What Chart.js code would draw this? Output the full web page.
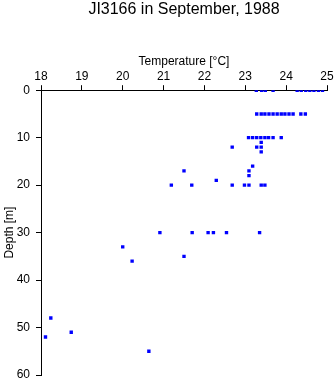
<!DOCTYPE html>
<html>
<head>
<meta charset="utf-8">
<script src="https://cdn.jsdelivr.net/npm/chart.js@4"></script>
<style>
  html, body { margin: 0; padding: 0; background: #fff; }
  #wrap { width: 335px; height: 384px; }
</style>
</head>
<body>
<div id="wrap"><canvas id="c" width="335" height="384"></canvas></div>
<script>
// Station JI3166, September 1988: one entry per sample
const depths = [
    0, 0, 0, 0, 0, 0, 0, 0, 0, 0, 0,
    5, 5, 5, 5, 5, 5, 5, 5, 5, 5, 5, 5,
    10, 10, 10, 10, 10, 10, 10, 10,
    11, 12, 12, 12, 13, 16, 17, 17, 18, 19,
    20, 20, 20, 20, 20, 20, 20,
    30, 30, 30, 30, 30, 30,
    33, 35, 36, 48, 51, 52, 55,
];
const temperatures = [
    23.27, 23.40, 23.49, 23.68, 24.27, 24.37, 24.48, 24.58, 24.68, 24.79, 24.89,
    23.28, 23.39, 23.48, 23.58, 23.68, 23.78, 23.88, 23.97, 24.07, 24.17, 24.36, 24.47,
    23.08, 23.18, 23.28, 23.38, 23.48, 23.57, 23.68, 23.88,
    23.39, 22.68, 23.28, 23.39, 23.39, 23.18, 21.50, 23.09, 23.09, 22.29,
    21.19, 21.69, 22.68, 22.98, 23.09, 23.39, 23.48,
    20.91, 21.70, 22.09, 22.22, 22.54, 23.35,
    20.00, 21.50, 20.23, 18.24, 18.74, 18.11, 20.64,
];
const tempTicks = [18, 19, 20, 21, 22, 23, 24, 25];
const depthTicks = [0, 10, 20, 30, 40, 50, 60];

Chart.defaults.font.family = '"Liberation Sans", Arial, sans-serif';
Chart.defaults.font.size = 12;
Chart.defaults.color = '#000';

const points = temperatures.map((t, i) => ({ x: t, y: depths[i] }));

new Chart(document.getElementById('c'), {
    type: 'scatter',
    data: {
        datasets: [{
            data: points,
            pointStyle: 'rect',
            pointRadius: 2.4,
            pointBorderWidth: 0,
            backgroundColor: '#0000ff',
            borderColor: '#0000ff',
        }],
    },
    options: {
        responsive: false,
        animation: false,
        layout: { padding: { left: 0, right: 8, top: 0, bottom: 9 } },
        plugins: {
            legend: { display: false },
            tooltip: { enabled: false },
            title: {
                display: true,
                fullSize: false,
                text: 'JI3166 in September, 1988',
                font: { size: 16, weight: 'normal' },
                color: '#000',
                padding: { top: 0, bottom: 31 },
            },
        },
        scales: {
            x: {
                type: 'linear',
                position: 'top',
                min: tempTicks[0],
                max: tempTicks[tempTicks.length - 1],
                afterBuildTicks: (s) => { s.ticks = tempTicks.map(v => ({ value: v })); },
                ticks: { padding: 1, maxRotation: 0 },
                grid: { drawOnChartArea: false, drawTicks: true, tickLength: 5, color: '#000' },
                border: { display: true, color: '#000', width: 1 },
                title: { display: true, text: 'Temperature [°C]', padding: { top: 4, bottom: 2 } },
                afterFit: (s) => { s.height = 40; s.paddingLeft = 0; s.paddingRight = 0; },
            },
            y: {
                type: 'linear',
                reverse: true,
                min: depthTicks[0],
                max: depthTicks[depthTicks.length - 1],
                afterBuildTicks: (s) => { s.ticks = depthTicks.map(v => ({ value: v })); },
                ticks: { padding: 6 },
                grid: { drawOnChartArea: false, drawTicks: true, tickLength: 5, color: '#000' },
                border: { display: true, color: '#000', width: 1 },
                title: { display: true, text: 'Depth [m]', padding: { top: 2, bottom: 2 } },
                afterFit: (s) => { s.width = 41; s.paddingTop = 0; s.paddingBottom = 0; },
            },
        },
    },
});
</script>
</body>
</html>
